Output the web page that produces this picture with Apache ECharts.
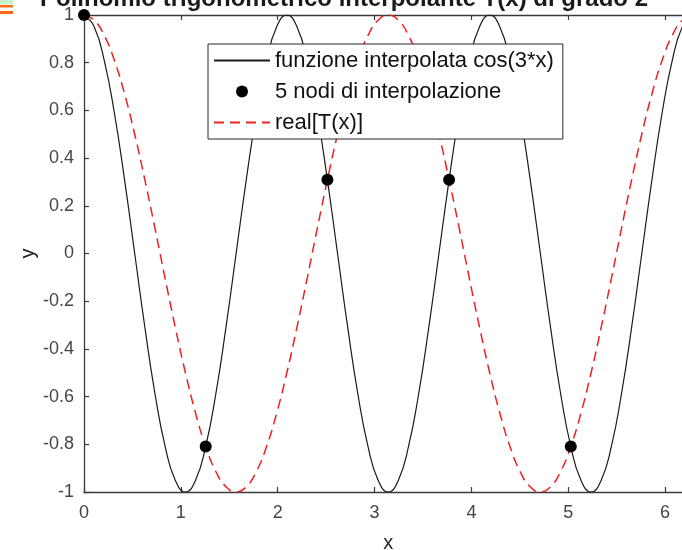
<!DOCTYPE html>
<html>
<head>
<meta charset="utf-8">
<script src="https://cdn.jsdelivr.net/npm/echarts@6/dist/echarts.min.js"></script>
<style>
  html, body { margin: 0; padding: 0; background: #fff; }
  #chart { width: 682px; height: 550px; }
</style>
</head>
<body>
<div id="chart"></div>
<script>
// Sample abscissae over one full period [0, 2*pi]
const xs = [0, 0.1047, 0.2094, 0.3142, 0.4189, 0.5236, 0.6283, 0.7330, 0.8378, 0.9425,
  1.0472, 1.1519, 1.2566, 1.3614, 1.4661, 1.5708, 1.6755, 1.7802, 1.8850, 1.9897,
  2.0944, 2.1991, 2.3038, 2.4086, 2.5133, 2.6180, 2.7227, 2.8274, 2.9322, 3.0369,
  3.1416, 3.2463, 3.3510, 3.4558, 3.5605, 3.6652, 3.7699, 3.8746, 3.9794, 4.0841,
  4.1888, 4.2935, 4.3982, 4.5029, 4.6077, 4.7124, 4.8171, 4.9218, 5.0265, 5.1313,
  5.2360, 5.3407, 5.4454, 5.5501, 5.6549, 5.7596, 5.8643, 5.9690, 6.0737, 6.1785,
  6.2832];

// Interpolated function cos(3x) at the sample abscissae
const fValues = [1, 0.951, 0.809, 0.588, 0.309, 0, -0.309, -0.588, -0.809, -0.951,
  -1, -0.951, -0.809, -0.588, -0.309, 0, 0.309, 0.588, 0.809, 0.951,
  1, 0.951, 0.809, 0.588, 0.309, 0, -0.309, -0.588, -0.809, -0.951,
  -1, -0.951, -0.809, -0.588, -0.309, 0, 0.309, 0.588, 0.809, 0.951,
  1, 0.951, 0.809, 0.588, 0.309, 0, -0.309, -0.588, -0.809, -0.951,
  -1, -0.951, -0.809, -0.588, -0.309, 0, 0.309, 0.588, 0.809, 0.951,
  1];

// Real part of the trigonometric interpolant T(x)
const tValues = [1, 0.978, 0.914, 0.809, 0.669, 0.5, 0.309, 0.105, -0.105, -0.309,
  -0.5, -0.669, -0.809, -0.914, -0.978, -1, -0.978, -0.914, -0.809, -0.669,
  -0.5, -0.309, -0.105, 0.105, 0.309, 0.5, 0.669, 0.809, 0.914, 0.978,
  1, 0.978, 0.914, 0.809, 0.669, 0.5, 0.309, 0.105, -0.105, -0.309,
  -0.5, -0.669, -0.809, -0.914, -0.978, -1, -0.978, -0.914, -0.809, -0.669,
  -0.5, -0.309, -0.105, 0.105, 0.309, 0.5, 0.669, 0.809, 0.914, 0.978,
  1];

// Interpolation nodes
const nodeX = [0, 1.2566, 2.5133, 3.7699, 5.0265];
const nodeY = [1, -0.809, 0.309, 0.309, -0.809];

const seriesNames = ['funzione interpolata cos(3*x)', '5 nodi di interpolazione', 'real[T(x)]'];
const titleText = 'Polinomio trigonometrico interpolante T(x) di grado 2';

const pair = (a, b) => a.map((v, i) => [v, b[i]]);

const FONT = '"Liberation Sans", Arial, Helvetica, sans-serif';
const AXIS_COLOR = '#3a3a3a';
const LABEL_COLOR = '#454545';

const chart = echarts.init(document.getElementById('chart'), null, { renderer: 'canvas' });

const xAxisBase = {
  type: 'value',
  min: 0,
  max: 6.2832,
  interval: 1,
  axisLine: { show: true, onZero: false, lineStyle: { color: AXIS_COLOR, width: 1.3 } },
  axisTick: { show: true, inside: true, length: 5, lineStyle: { color: AXIS_COLOR, width: 1.2 } },
  splitLine: { show: false }
};

// Line legend entries show only the stroke, no marker
const hiddenMarker = { opacity: 0 };

chart.setOption({
  animation: false,
  backgroundColor: '#ffffff',
  title: {
    text: titleText,
    left: 40,
    top: -13,
    padding: 0,
    textStyle: { fontFamily: FONT, fontSize: 24, fontWeight: 'bold', color: '#1a1a1a' }
  },
  graphic: [
    { type: 'rect', left: 0, top: 0, shape: { width: 13, height: 4.5 }, style: { fill: '#c9f2c9' } },
    { type: 'rect', left: 0, top: 5, shape: { width: 13, height: 2.5 }, style: { fill: '#ff6a13' } },
    { type: 'rect', left: 0, top: 11, shape: { width: 13, height: 3 }, style: { fill: '#ff6a13' } }
  ],
  legend: {
    orient: 'vertical',
    left: 208,
    top: 44,
    padding: [2, 9, 2, 5],
    itemGap: 2,
    itemWidth: 56,
    itemHeight: 12,
    backgroundColor: '#ffffff',
    borderColor: '#262626',
    borderWidth: 1,
    borderRadius: 0,
    textStyle: { fontFamily: FONT, fontSize: 22, color: '#111', lineHeight: 29 },
    data: [
      { name: seriesNames[0], itemStyle: hiddenMarker },
      { name: seriesNames[1] },
      { name: seriesNames[2], itemStyle: hiddenMarker }
    ]
  },
  grid: { left: 84, right: -10.5, top: 15, bottom: 58, outerBoundsMode: 'none', containLabel: false },
  xAxis: [
    Object.assign({}, xAxisBase, {
      position: 'bottom',
      name: 'x',
      nameLocation: 'middle',
      nameGap: 41,
      nameMoveOverlap: false,
      nameTextStyle: { fontFamily: FONT, fontSize: 20, color: '#262626' },
      axisLabel: {
        show: true, margin: 12, fontFamily: FONT, fontSize: 18, color: LABEL_COLOR,
        formatter: v => (Math.abs(v - Math.round(v)) < 1e-9 ? String(Math.round(v)) : '')
      }
    }),
    Object.assign({}, xAxisBase, {
      position: 'top',
      axisLabel: { show: false }
    })
  ],
  yAxis: {
    type: 'value',
    min: -1,
    max: 1,
    interval: 0.2,
    name: 'y',
    nameLocation: 'middle',
    nameGap: 46,
    nameMoveOverlap: false,
    nameTextStyle: { fontFamily: FONT, fontSize: 20, color: '#262626' },
    axisLine: { show: true, onZero: false, lineStyle: { color: AXIS_COLOR, width: 1.3 } },
    axisTick: { show: true, inside: true, length: 5, lineStyle: { color: AXIS_COLOR, width: 1.2 } },
    splitLine: { show: false },
    axisLabel: {
      margin: 10, fontFamily: FONT, fontSize: 18, color: LABEL_COLOR,
      formatter: v => {
        const r = Math.round(v * 10) / 10;
        return r === 0 ? '0' : String(r);
      }
    }
  },
  series: [
    {
      name: seriesNames[0],
      type: 'line',
      data: pair(xs, fValues),
      smooth: true,
      symbol: 'none',
      lineStyle: { color: '#1a1a1a', width: 1.2 },
      itemStyle: { color: '#1a1a1a' },
      z: 2
    },
    {
      name: seriesNames[1],
      type: 'scatter',
      data: pair(nodeX, nodeY),
      symbol: 'circle',
      symbolSize: 12,
      itemStyle: { color: '#000000', opacity: 1 },
      clip: false,
      z: 4
    },
    {
      name: seriesNames[2],
      type: 'line',
      data: pair(xs, tValues),
      smooth: true,
      symbol: 'none',
      lineStyle: { color: '#ee2020', width: 1.5, type: [10, 6] },
      itemStyle: { color: '#ee2020' },
      z: 3
    }
  ]
});
</script>
</body>
</html>
